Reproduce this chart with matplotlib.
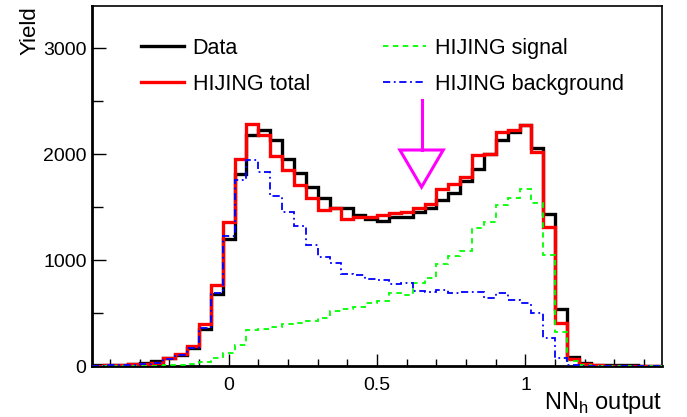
import numpy as np
import matplotlib
matplotlib.use("Agg")
import matplotlib.pyplot as plt
from matplotlib.ticker import MultipleLocator

plt.rcParams['font.family'] = ['Liberation Sans', 'DejaVu Sans']
plt.rcParams['mathtext.fontset'] = 'custom'
plt.rcParams['mathtext.rm'] = 'Liberation Sans'

# 48 bins of width 0.04 from -0.46 to 1.46
bin_lo, bin_hi, n_bins = -0.46, 1.46, 48

data = [5, 8, 12, 20, 30, 50, 78, 100, 167, 352, 684, 1204,
        1818, 2179, 2226, 2138, 1953, 1824, 1686, 1591, 1488, 1488, 1425, 1384,
        1368, 1403, 1403, 1456, 1495, 1566, 1635, 1750, 1860, 2006, 2132, 2211,
        2274, 2055, 1434, 540, 85, 30, 12, 8, 6, 5, 4, 3]
hijing_total = [4, 7, 10, 15, 22, 32, 72, 110, 189, 398, 762, 1357,
                1953, 2289, 2179, 1981, 1849, 1708, 1582, 1478, 1488, 1393, 1409, 1409,
                1425, 1443, 1456, 1492, 1527, 1676, 1723, 1783, 1991, 2000, 2211, 2226,
                2274, 2022, 1314, 409, 65, 15, 5, 4, 3, 3, 2, 2]
hijing_signal = [0, 0, 1, 1, 2, 3, 5, 10, 19, 41, 72, 126,
                 195, 340, 346, 371, 393, 403, 428, 450, 519, 535, 560, 597,
                 613, 692, 670, 786, 827, 962, 1038, 1085, 1299, 1362, 1519, 1582,
                 1670, 1535, 1047, 324, 50, 12, 4, 3, 2, 2, 1, 1]
hijing_bkg = [4, 7, 9, 14, 20, 29, 67, 100, 170, 357, 690, 1231,
              1758, 1949, 1833, 1610, 1456, 1320, 1142, 1031, 969, 868, 858, 818,
              811, 770, 780, 711, 701, 717, 686, 701, 701, 638, 692, 623,
              591, 497, 268, 80, 10, 3, 1, 1, 1, 1, 1, 1]

cut_x = 0.65

edges = np.linspace(bin_lo, bin_hi, n_bins + 1)

fig = plt.figure(figsize=(6.87, 4.17), dpi=100)
ax = fig.add_axes([0.134, 0.1223, 0.8296, 0.8633])

ax.stairs(data, edges, baseline=None, color='black', lw=2.4, zorder=2, label='Data')
ax.stairs(hijing_total, edges, baseline=None, color='#ff0000', lw=2.4, zorder=3, label='HIJING total')
ax.stairs(hijing_signal, edges, baseline=None, color='#00ff00', lw=1.3, ls=(0, (3, 2.5)), zorder=4, label='HIJING signal')
ax.stairs(hijing_bkg, edges, baseline=None, color='#0000ff', lw=1.3, ls=(0, (4, 2, 1, 2)), zorder=5, label='HIJING background')

# cut arrow
ax.plot([cut_x, cut_x], [2510, 2040], color='magenta', lw=2.2, zorder=6)
ax.fill([cut_x - 0.073, cut_x + 0.073, cut_x], [2040, 2040, 1690],
        facecolor='none', edgecolor='magenta', lw=2.2, zorder=6)

ax.set_xlim(bin_lo, bin_hi)
ax.set_ylim(0, 3400)

ax.xaxis.set_minor_locator(MultipleLocator(0.1))
ax.yaxis.set_major_locator(MultipleLocator(1000))
ax.yaxis.set_minor_locator(MultipleLocator(500))
ax.set_xticks([0, 0.5, 1])
ax.set_xticklabels(['0', '0.5', '1'])
ax.tick_params(axis='both', which='both', direction='in', top=False, right=False, labelsize=14)
ax.tick_params(axis='x', which='major', length=9, width=1, pad=8)
ax.tick_params(axis='x', which='minor', length=5, width=1)
ax.tick_params(axis='y', which='major', length=10, width=1, pad=4)
ax.tick_params(axis='y', which='minor', length=8, width=1)
for s in ax.spines.values():
    s.set_linewidth(1.2)
ax.spines['bottom'].set_linewidth(2)
ax.spines['left'].set_linewidth(2)

ax.set_ylabel('Yield', fontsize=16, loc='top', labelpad=2)
ax.set_xlabel(r'NN$_\mathregular{h}$ output', fontsize=17, loc='right', labelpad=-3)

ax.legend(loc='upper left', bbox_to_anchor=(0.052, 0.965), ncol=2, frameon=False,
          fontsize=15.5, handlelength=2.0, columnspacing=3.4, labelspacing=0.68,
          handletextpad=0.4)

fig.savefig('out.png', dpi=100)
